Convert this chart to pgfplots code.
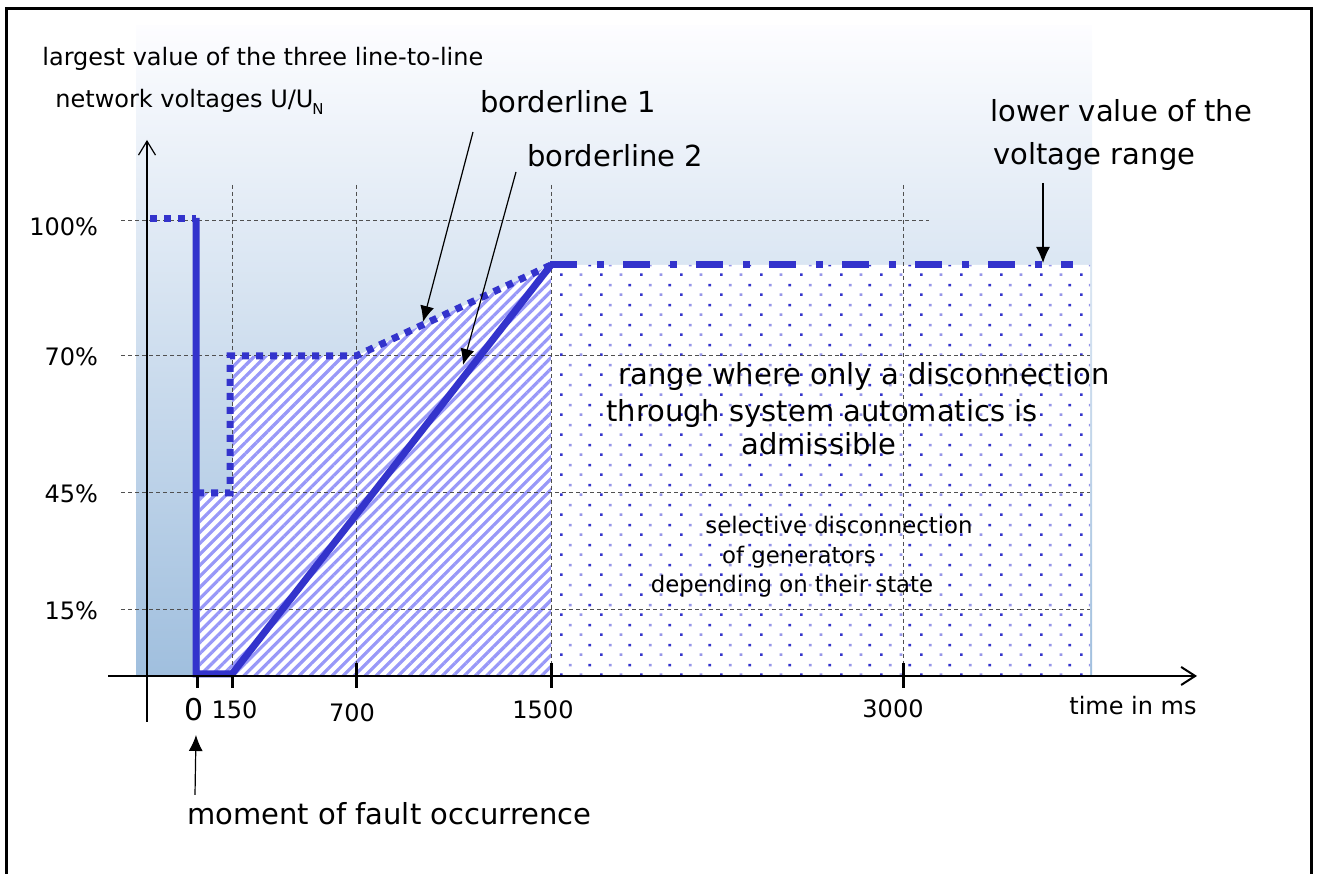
\documentclass[border=0pt]{standalone}
\usepackage{pgfplots}
\pgfplotsset{compat=1.18}
\usepackage{fontspec}
\setmainfont{DejaVu Sans}
\usetikzlibrary{patterns,patterns.meta,arrows.meta}
\definecolor{lineblue}{RGB}{51,51,204}
\definecolor{hatchcol}{RGB}{152,152,248}
\definecolor{dotdark}{RGB}{51,51,204}
\definecolor{dotlight}{RGB}{150,150,232}
\definecolor{gradtop}{RGB}{253,253,255}
\definecolor{gradbot}{RGB}{160,191,222}
\definecolor{gridcol}{RGB}{80,80,80}
\pgfdeclarepatterninherentlycolored{bluedots}
{\pgfpointorigin}{\pgfpoint{20pt}{10pt}}{\pgfpoint{20pt}{10pt}}
{
\pgfsetfillcolor{dotdark}
\pgfpathrectangle{\pgfpoint{0pt}{0pt}}{\pgfpoint{1.4pt}{1.4pt}}
\pgfpathrectangle{\pgfpoint{14.5pt}{5pt}}{\pgfpoint{1.4pt}{1.4pt}}
\pgfusepath{fill}
\pgfsetfillcolor{dotlight}
\pgfpathrectangle{\pgfpoint{10pt}{0pt}}{\pgfpoint{1.4pt}{1.4pt}}
\pgfpathrectangle{\pgfpoint{4.5pt}{5pt}}{\pgfpoint{1.4pt}{1.4pt}}
\pgfusepath{fill}
}
\newcommand{\fbig}{\fontsize{14.5}{17}\selectfont}
\newcommand{\fmid}{\fontsize{12}{14}\selectfont}
\newcommand{\fsmall}{\fontsize{11.4}{13}\selectfont}
\begin{document}
\begin{tikzpicture}
\begin{axis}[
 scale only axis, width=658.5pt, height=437pt,
 xmin=-197, xmax=1120, ymin=-198, ymax=676,
 hide axis, clip=false,
 ]
\path (rel axis cs:0,0) rectangle (rel axis cs:1,1);
% frame
\addplot[black, line width=1.5pt] coordinates {(-190.5,-198) (-190.5,667) (1114.5,667) (1114.5,-198)};
% background gradient
\addplot[draw=none, top color=gradtop, bottom color=gradbot] coordinates {(-61,0) (-61,651) (895,651) (895,0)} \closedcycle;
% hatched region (between borderline 1 and the fault moment, up to 1500 ms)
\addplot[draw=none, fill=white, postaction={pattern={Lines[angle=45,distance=3.9pt,line width=1.6pt]}, pattern color=hatchcol}]
 coordinates {(3,0) (3,183) (35,183) (35,320) (159,320) (354,411) (354,0)} \closedcycle;
% dotted region
\addplot[draw=none, fill=white, postaction={pattern=bluedots}]
 coordinates {(354,0) (354,411) (893,411) (893,0)} \closedcycle;
% grid lines
\addplot[gridcol, line width=0.5pt, dash pattern=on 2pt off 1.5pt] coordinates {(-76,455) (732,455)};
\addplot[gridcol, line width=0.5pt, dash pattern=on 2pt off 1.5pt] coordinates {(-76,320) (893,320)};
\addplot[gridcol, line width=0.5pt, dash pattern=on 2pt off 1.5pt] coordinates {(-76,183) (893,183)};
\addplot[gridcol, line width=0.5pt, dash pattern=on 2pt off 1.5pt] coordinates {(-76,66) (893,66)};
\addplot[gridcol, line width=0.5pt, dash pattern=on 2pt off 1.5pt] coordinates {(35,491) (35,0)};
\addplot[gridcol, line width=0.5pt, dash pattern=on 2pt off 1.5pt] coordinates {(159,491) (159,0)};
\addplot[gridcol, line width=0.5pt, dash pattern=on 2pt off 1.5pt] coordinates {(354,491) (354,0)};
\addplot[gridcol, line width=0.5pt, dash pattern=on 2pt off 1.5pt] coordinates {(706,491) (706,0)};
% borderline 1 (dotted)
\addplot[lineblue, line width=3.5pt, dash pattern=on 3.5pt off 3.5pt] coordinates {(-47,457.5) (-1,457.5)};
\addplot[lineblue, line width=3.5pt, dash pattern=on 3.5pt off 3.5pt] coordinates {(0,183) (33,183) (33,320) (159,320) (354,411)};
% borderline 2 (solid)
\addplot[lineblue, line width=3.5pt, line join=miter] coordinates {(-1,458) (-1,2) (35,2) (354,411)};
% lower value of the voltage range (dash-dot)
\addplot[lineblue, line width=3.5pt, dash pattern=on 13.5pt off 10pt on 3.25pt off 9.75pt] coordinates {(353,411) (876,411)};
% axes
\addplot[black, line width=0.6pt, -{Straight Barb[length=7pt,width=8.5pt]}] coordinates {(-50,-46) (-50,536)};
\addplot[black, line width=1pt, -{Straight Barb[length=7pt,width=9pt]}] coordinates {(-89,0) (1000,0)};
% ticks
\addplot[black, line width=1.5pt] coordinates {(0,0) (0,-12)};
\addplot[black, line width=1.5pt] coordinates {(35,0) (35,-12)};
\addplot[black, line width=1.5pt] coordinates {(159,13) (159,-12)};
\addplot[black, line width=1.5pt] coordinates {(354,13) (354,-12)};
\addplot[black, line width=1.5pt] coordinates {(706,13) (706,-12)};
% annotation arrows
\addplot[black, line width=0.6pt, -{Latex[length=8pt,width=7pt]}] coordinates {(276,544) (226,354)};
\addplot[black, line width=0.6pt, -{Latex[length=8pt,width=7pt]}] coordinates {(319,504) (266,311)};
\addplot[black, line width=0.6pt, -{Latex[length=8pt,width=7pt]}] coordinates {(846,493) (846,413)};
\addplot[black, line width=0.6pt, -{Latex[length=8pt,width=7pt]}] coordinates {(-2,-119) (-1,-59)};
% tick labels
\node[anchor=base east, font=\fmid] at (axis cs:-92,440) {100\%};
\node[anchor=base east, font=\fmid] at (axis cs:-92,310) {70\%};
\node[anchor=base east, font=\fmid] at (axis cs:-92,173) {45\%};
\node[anchor=base east, font=\fmid] at (axis cs:-92,56) {15\%};
\node[anchor=base, font=\fontsize{15}{17}\selectfont] at (axis cs:-3,-45) {0};
\node[anchor=base, font=\fmid] at (axis cs:37.5,-43) {150};
\node[anchor=base, font=\fmid] at (axis cs:155,-46) {700};
\node[anchor=base, font=\fmid] at (axis cs:346,-43) {1500};
\node[anchor=base, font=\fmid] at (axis cs:696,-42) {3000};
\node[anchor=base, font=\fmid] at (axis cs:936,-39) {time in ms};
% texts
\node[anchor=base west, font=\fmid, inner sep=0pt] at (axis cs:-155,610) {largest value of the three line-to-line};
\node[anchor=base west, font=\fmid, inner sep=0pt] at (axis cs:-142,568) {network voltages U/U\kern-0.05em\raisebox{-0.5ex}{\fontsize{7.5}{8}\selectfont N}};
\node[anchor=base west, font=\fbig, inner sep=0pt] at (axis cs:283,563) {borderline 1};
\node[anchor=base west, font=\fbig, inner sep=0pt] at (axis cs:330,509) {borderline 2};
\node[anchor=base west, font=\fbig, inner sep=0pt] at (axis cs:793,554) {lower value of the};
\node[anchor=base west, font=\fbig, inner sep=0pt] at (axis cs:796,511) {voltage range};
\node[anchor=base, font=\fbig, inner sep=0pt] at (axis cs:667,291) {range where only a disconnection};
\node[anchor=base, font=\fbig, inner sep=0pt] at (axis cs:625,254) {through system automatics is};
\node[anchor=base, font=\fbig, inner sep=0pt] at (axis cs:622,221) {admissible};
\node[anchor=base, font=\fsmall, inner sep=0pt] at (axis cs:642,142) {selective disconnection};
\node[anchor=base, font=\fsmall, inner sep=0pt] at (axis cs:602,112) {of generators};
\node[anchor=base, font=\fsmall, inner sep=0pt] at (axis cs:595,83) {depending on their state};
\node[anchor=base west, font=\fbig, inner sep=0pt] at (axis cs:-10,-149) {moment of fault occurrence};
\end{axis}
\end{tikzpicture}
\end{document}
